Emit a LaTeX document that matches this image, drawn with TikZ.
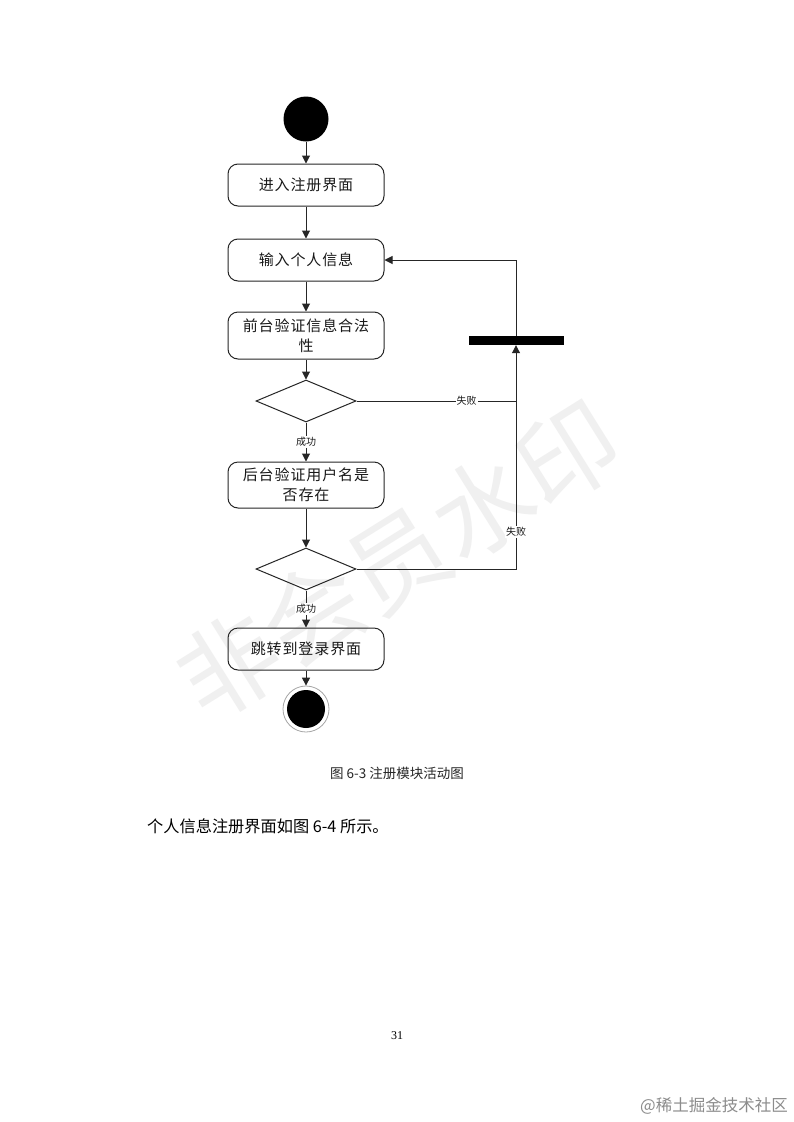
\documentclass[tikz,border=0pt]{standalone}
\usepackage{fontspec}
\setmainfont{Noto Sans CJK SC}
\newfontfamily\boxfont[LetterSpace=6]{Noto Sans CJK SC}
\newfontfamily\pgnum{Liberation Serif}
\usetikzlibrary{shapes.geometric,arrows.meta}
\tikzset{
  actbox/.style={draw=black!85, line width=1pt, rounded corners=10pt, minimum width=156pt,
    inner sep=0pt, align=center, text=black!90, font=\boxfont\fontsize{15}{20}\selectfont},
  decis/.style={draw=black!85, line width=1pt, diamond, aspect=2.38, minimum width=100pt,
    minimum height=42pt, inner sep=0pt},
  arr/.style={draw=black!85, line width=1pt, -{Triangle[length=8pt,width=8pt]}},
  plain/.style={draw=black!85, line width=1pt},
  lab/.style={fill=white, inner sep=1pt, text=black!90, font=\fontsize{10}{10}\selectfont}
}
\begin{document}
\begin{tikzpicture}[x=1pt,y=-1pt]
\useasboundingbox[fill=white] (0,0) rectangle (793,1122);
% watermark
\node[rotate=32, text=black!6, font=\fontsize{100}{100}\selectfont] (wm) at (398,560) {非会员水印};
% nodes
\node[circle, fill=black, minimum size=45pt, inner sep=0pt] (start) at (306,119) {};
\node[actbox, minimum height=42pt] (b1) at (306,185) {进入注册界面};
\node[actbox, minimum height=42pt] (b2) at (306,260) {输入个人信息};
\node[actbox, minimum height=47pt] (b3) at (306,335.5) {前台验证信息合法\\性};
\node[decis] (d1) at (306,401) {};
\node[actbox, minimum height=46pt] (b4) at (306,485) {后台验证用户名是\\否存在};
\node[decis] (d2) at (306,569) {};
\node[actbox, minimum height=42pt] (b5) at (306,649) {跳转到登录界面};
\node[circle, draw=black!35, line width=0.8pt, minimum size=46pt, inner sep=0pt] (endo) at (306,709) {};
\node[circle, fill=black, minimum size=38pt, inner sep=0pt] (endi) at (306,709) {};
\node[fill=black, minimum width=95pt, minimum height=9pt, inner sep=0pt] (bar) at (516,340.5) {};
\coordinate (j1) at (516,401);
\coordinate (j2) at (516,569);
% connectors
\draw[arr] (start) -- (b1);
\draw[arr] (b1) -- (b2);
\draw[arr] (b2) -- (b3);
\draw[arr] (b3) -- (d1);
\draw[arr] (d1) -- node[lab]{成功} (b4);
\draw[arr] (b4) -- (d2);
\draw[arr] (d2) -- node[lab]{成功} (b5);
\draw[arr] (b5) -- (endo);
\draw[plain] (d1.east) -- node[lab, pos=0.69]{失败} (j1);
\draw[arr] (d2.east) -- (j2) -- node[lab, pos=0.165]{失败} (bar.south);
\draw[arr] (bar.north) |- (b2.east);
% page texts
\node[text=black!85, font=\fontsize{13.5}{15}\selectfont] (cap) at (397,773) {图 6-3 注册模块活动图};
\node[anchor=west, inner sep=0pt, font=\fontsize{16.2}{18}\selectfont] (body) at (147,826) {个人信息注册界面如图 6-4 所示。};
\node[font=\pgnum\fontsize{12}{14}\selectfont] (pg) at (397,1036) {31};
\node[anchor=east, inner sep=0pt, text=black!45, font=\fontsize{16.5}{18}\selectfont] (wm2) at (788,1106) {@稀土掘金技术社区};
\end{tikzpicture}
\end{document}
